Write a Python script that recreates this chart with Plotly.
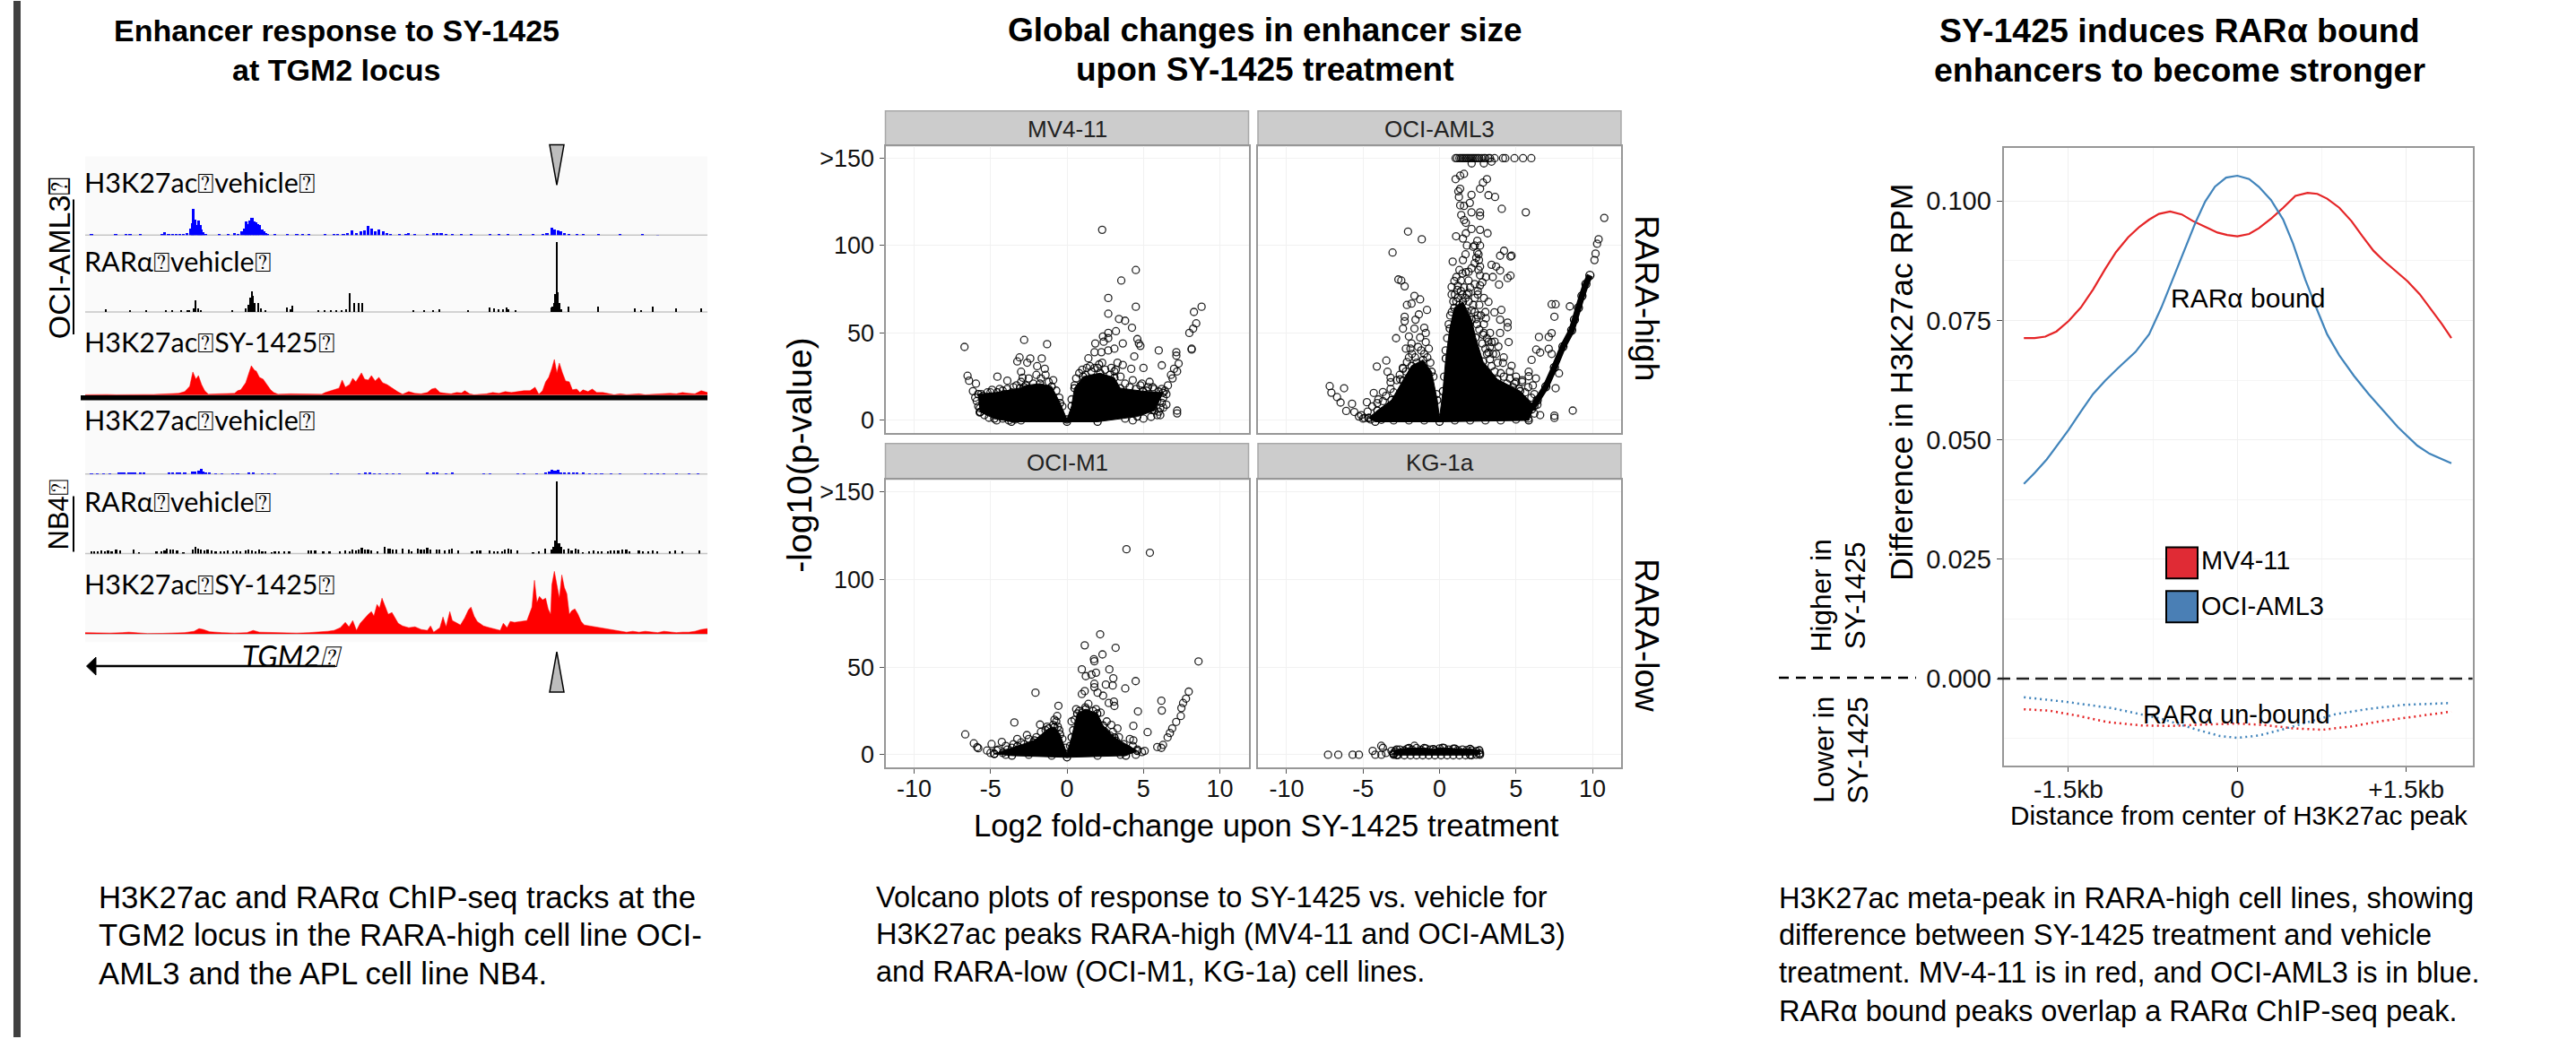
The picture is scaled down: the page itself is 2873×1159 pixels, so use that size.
import plotly.graph_objects as go

W, H = 2873, 1159
SANS = "Liberation Sans"
TRACKF = "Lato"

# ---------- Track data: (locus position 0-100, signal height) ----------
OCI_H3_VEH = [(1.0,.8),(4.9,1),(6.5,.8),(7.2,1),(8.8,.8),(12.3,2),(12.8,4),(13.4,2),(14,1.5),(14.6,1.5),(15.2,1.5),(15.8,2),(16.4,2.5),(16.95,8),(17.2,14),(17.4,30),(17.65,18),(17.9,12),(18.2,17),(18.45,12),(18.7,7),(19,4),(19.3,2),(21.5,1),(23,1),(24,3),(24.6,2),(25.2,5),(25.6,8),(25.9,16),(26.2,13),(26.5,17),(26.8,20),(27.1,16),(27.4,15),(27.7,13),(28,12),(28.4,7),(28.7,5),(29,3),(29.3,1.5),(30.5,.8),(32.5,1),(34,.8),(35,1),(35.9,1),(38.5,1),(40,.8),(40.6,1.5),(41.5,2),(42.2,3),(42.9,6),(43.6,3),(44.3,5),(44.9,6),(45.4,11),(46,8),(46.6,5),(47.2,7),(47.9,5),(48.5,2.5),(49,2),(50.5,1),(51.5,2),(52,3),(53,1),(55,2),(56,3),(56.5,2.5),(57.2,3),(58,1.5),(59,1),(60.5,1),(62,1),(65,1),(66.5,1),(68,1),(70,1.5),(72,1),(73.5,2),(74.2,3),(75,9),(75.4,7),(76,6),(76.5,5),(77,3),(77.8,2),(79,2),(80,2),(82.5,1.5),(86,1),(89.5,1.5),(92,.7)]
OCI_RARA_VEH = [(3.4,2.5),(7.2,1),(9.8,1),(13,1),(14,1.5),(15.5,1),(16.5,1),(16.8,2),(17.5,4),(17.8,13),(18.2,4),(18.6,2),(23.6,1),(25.8,4),(26.3,8),(26.6,16),(26.8,23),(27,18),(27.2,10),(27.8,10),(28.2,4),(29,2),(32.5,5),(33,3),(33.3,7),(37.5,1),(38.5,1.5),(39.5,2),(40.4,2),(41.2,2),(41.9,3),(42.5,21),(43.2,10),(44,10),(44.5,10),(52.8,2),(54.5,1),(56,2),(57,3),(61.5,1),(65,5),(65.8,4),(66.4,3),(67.2,3),(67.7,5),(68,3),(69.2,2),(74.9,5),(75.1,6),(75.4,10),(75.6,20),(75.8,78),(76,22),(76.2,10),(76.5,3),(77.7,6),(82.5,6),(88.3,3.5),(89.3,2),(91.2,6),(95,4),(99,4)]
OCI_H3_SY = [(0,.5),(1,.8),(2,.5),(3.5,.8),(5,.5),(6.5,.8),(8,.5),(9.5,.8),(11,.8),(12.5,1.5),(13.5,1.5),(15,2),(16,4),(16.8,10),(17.3,26),(17.8,18),(18.2,22),(18.7,12),(19.2,5),(19.8,1),(21.5,1.5),(23,1.5),(24,2),(24.5,5),(25,6),(25.8,14),(26.2,22),(26.7,33),(27.2,28),(27.5,27),(28,20),(28.6,18),(29.2,12),(29.8,6),(30.3,3),(31,1),(33,1.5),(35,1.5),(37,1.5),(38,1),(38.6,3),(39.5,5),(40.3,7),(40.8,8),(41.3,17),(41.8,9),(42.5,12),(43,19),(43.5,15),(44.4,25),(44.9,18),(45.5,17),(46,22),(46.6,16),(47.2,20),(47.8,14),(48.5,12),(49.3,8),(50.2,4),(51,1),(52,4),(53,2),(54,1.5),(55,3),(55.7,7),(56.3,8),(57,3),(58,2),(58.8,1.5),(59.7,3),(60.5,2.5),(61,5),(61.8,1.5),(62.5,.5),(63.5,1),(64.5,1.5),(65.5,3),(66.5,2),(67.5,4),(68.5,3),(69.5,4),(70.5,5),(71.5,5),(72.3,9),(72.9,1),(73.5,5),(74,15),(74.5,20),(75,30),(75.4,40),(75.8,25),(76.2,36),(76.7,25),(77.2,16),(77.8,15),(78.3,6),(79,7),(79.5,3),(80,6),(80.8,4),(81.5,7),(82.2,3),(83.2,3),(84.5,1.5),(85,.5),(86,1.5),(87,.7),(88,1),(89,1.5),(90,.5),(91,1),(92,1.5),(93,2),(94,2),(95,1.5),(96,3),(97,2),(98,1.5),(99,5),(100,3)]
NB4_H3_VEH = [(1,.7),(2,.7),(3,.7),(4,.7),(5.4,1),(5.8,1.5),(6.3,1.5),(7,1),(7.5,1),(8,.8),(8.8,.8),(9.5,.8),(13.5,1),(14,1.5),(14.8,1),(15.2,1.5),(16,1),(17.2,3),(17.7,3),(18.2,4),(18.6,6),(19,3),(19.4,1.5),(20,1),(21,.7),(22,.7),(23.7,.7),(24.5,.7),(26.3,1),(27,.8),(28.5,.7),(29.5,.7),(30.5,.7),(39.6,.7),(40.5,.7),(44,.7),(45,1),(45.7,1),(46.5,.7),(47.3,.7),(48.5,.7),(49.5,.7),(50.5,.7),(55,1.5),(56,2),(56.5,1),(58,.7),(59,1),(64,.7),(65,.7),(69.5,.7),(70.5,.7),(72.5,.7),(74,1.5),(74.6,3),(75,5),(75.5,4),(76,4.5),(76.5,2),(77,1.5),(77.8,1),(78.5,1),(79,1),(80,.8),(81,.7),(82,.7),(83,.7),(84.5,.7),(86,.7),(90,.7),(91,.7),(92,.7),(93,.7),(95,.7),(97,.7),(98.5,.7)]
NB4_RARA_VEH = [(1,3),(1.5,3),(2,3),(2.6,3.5),(3.2,3),(3.7,4),(4.3,3),(5,5),(5.7,4),(7.8,5),(8.7,2),(11.5,3),(12.3,3),(12.8,4),(13.2,6),(13.7,5),(14.2,5),(14.8,4),(15.8,2),(17.3,5),(17.8,8),(18.2,6),(18.6,5),(19.2,4),(19.7,5),(20.3,4),(21,3),(21.8,3),(22.4,3),(23,4),(23.8,3),(24.4,4),(25,3),(25.8,4),(26.3,5),(26.8,4),(27.4,3),(28,5),(28.5,3),(29,3),(30,2),(30.5,3),(31.2,3),(32,3),(32.8,3),(35.9,4),(36.3,4),(37,4),(38.3,3),(39.3,3),(41,3),(41.8,4),(42.5,3),(43,5),(43.6,4),(44,5),(44.5,7),(45,5),(45.5,5),(46,4),(47,3),(48.2,8),(48.7,6),(49,6),(49.5,5),(50,5),(51,6),(52,5),(52.5,3),(53.5,6),(54,5),(54.5,5),(55,7),(55.5,5),(56.5,5),(57,5),(57.8,4),(58.5,5),(59,6),(60,4),(62.2,3),(63,4),(63.5,4),(65,4),(65.7,3),(66.3,3),(67,3),(67.5,5),(68,6),(68.5,5),(69.5,4),(72,2),(73,3),(74,6),(75,5),(75.3,8),(75.5,15),(75.85,81),(76.2,12),(76.5,8),(77,5),(77.7,6),(78.2,4),(78.8,6),(79.3,5),(80,2),(81,3),(81.7,4),(82.5,3),(83,3),(84,3),(84.5,4),(85,4),(85.7,4),(86.4,5),(87,5),(87.5,3),(89,4),(89.7,3),(90.5,3),(91.3,4),(92,3),(94,3),(94.8,4),(96,3),(98.7,4)]
NB4_H3_SY = [(0,1.5),(2,1),(4,1),(6,1.5),(7,2),(9,1),(10,.5),(12.5,.7),(14,1),(16,1.5),(17.5,3),(18.3,6),(19,5),(20,2.5),(22,1.5),(24,1),(26,1.5),(27,4),(28,2),(30,1.5),(32,1),(34,1),(36,1.5),(38,2),(39,3),(40,4),(41,7),(41.8,13),(42.4,8),(43,15),(43.6,4),(44.2,12),(44.8,17),(45.5,22),(46,25),(46.4,20),(46.9,33),(47.3,29),(47.7,40),(48.2,30),(48.7,22),(49.3,24),(49.8,18),(50.3,12),(51,9),(52,7),(53,8),(54,5),(55,4),(55.5,9),(56,2),(57,7),(57.5,19),(58,8),(58.6,25),(59,15),(59.8,12),(60.3,10),(61,18),(61.6,27),(62,30),(62.5,20),(63,14),(64,9),(65,7),(66,5),(66.7,4),(67.2,12),(67.8,7),(68.3,14),(69,13),(70,14),(71,15),(71.8,30),(72.2,60),(72.6,35),(73,42),(73.5,38),(74,40),(74.4,28),(74.8,22),(75,55),(75.4,70),(75.8,55),(76.2,40),(76.6,66),(77,52),(77.4,45),(77.8,22),(78.2,26),(78.7,28),(79.2,22),(79.7,14),(80.2,10),(81,9),(82,8),(83,7),(84,5),(85,4),(86,3),(87,2),(88,3),(89,2),(90,3),(91,2),(92,1.5),(93,3),(94,2),(95,1.5),(96,2),(97,2),(98,3),(99,5),(100,6)]

# ---------- Volcano data: (log2 fold change, -log10 p) ----------
MV411_POINTS = [(-6.7,42),(2.3,109),(4.5,86),(3.55,80),(2.7,70),(4.5,65),(8.8,65),(8.3,62),(2.7,61),(3.4,58),(3.8,57),(4.25,53),(8.45,55.5),(8.25,52.5),(8,50),(-2.8,46),(-1.3,43.6),(1.85,44),(6,40),(8.15,41),(8.15,40.5),(7.15,39),(7.15,37),(4.7,44),(4.8,42.6),(4.6,46.5),(3.65,44),(3.1,41),(2.7,50),(3.2,51),(2.35,48),(2.7,47),(2.4,45),(2.7,40),(2.25,39),(1.8,39),(1.4,35.5),(4.4,36.6),(7.3,32.5),(6.2,31.5),(7,29.5),(3.65,31.7),(5,30),(4.2,29.5),(-6.5,25.5),(-6.4,22.7),(-4.55,25),(-5.95,21),(-6.15,16.7),(-3.1,36),(-3.25,33.7),(-2.4,35.4),(-1.65,35.4),(-2.6,33),(-1.95,31),(-1.45,29.5),(-3,27.8),(-3.9,22.7),(-2.9,24.4),(7.2,5.6),(7.2,4),(6.3,7.3),(6.1,3),(-5.5,14),(-5.2,16),(-4.9,17.5),(-4.5,14),(-4.2,17),(-3.8,15),(-3.5,19),(-5.8,8),(-5.5,10),(-5.2,6),(-5.7,4.5),(-5,11),(-4.6,9),(2.9,30),(2.3,33),(2,30),(3.3,33),(3.1,28),(1.3,30),(1.6,28),(4.3,23),(4.8,20),(5.3,19),(5.7,18),(6.2,18),(6.6,20),(6.9,24),(7.2,28),(6.8,26),(5.4,22),(6.5,9),(5.9,11),(5.6,6),(6.0,5),
 (-5.6,15),(-5.3,13),(-5,16),(-4.7,13),(-4.4,18),(-4.1,15),(-3.9,18),(-3.6,16),(-3.3,20),(-3,22),(-2.8,19),(-2.5,24),(-2.2,21),(-2,26),(-1.7,24),(-1.4,26),(-1.2,22),(-.9,23),(-.7,17),(-.5,13),(-.3,8),(-5.9,11),(-6,13),(-5.7,7),(-5.4,3),(-5.1,1.5),(-4.6,0),(-4.2,1),(-3.8,0),(-3.4,.5),(-3,0),(.3,12),(.5,20),(.6,24),(.8,27),(1,29),(1.2,26),(1.5,31),(1.8,30),(2.1,32),(2.5,29),(2.8,26),(3.2,29),(3.5,25),(3.8,21),(4.1,19),(4.5,18),(4.9,21),(5.2,17),(5.6,19),(6,16.5),(6.3,13),(6.5,15),(6.4,17),(6.2,10),(6.1,7),(5.9,3),(5.5,2),(5,1),(4.3,0),(3.8,1)]
MV411_MASS = [(-5.68,4.8),(-5.8,15),(-4.56,16),(-3.07,18.4),(-2.7,20),(-1.76,21),(-1,19.3),(-.45,9.9),(0,.5),(.3,8.2),(.49,18.4),(1.05,25),(2.17,27),(3.1,24.4),(3.48,18.4),(4.97,16.7),(6.28,15.8),(5.72,5.6),(4.6,2.2),(2,-.8),(0,-.8),(-3.63,-.8),(-4.75,1)]
AML3_TOP_ROW = [1.05,1.15,1.3,1.4,1.5,1.6,1.7,1.8,1.9,2.0,2.1,2.2,2.3,2.4,2.5,2.6,2.75,2.9,3.0,3.2,3.3,3.6,4.15,4.3,4.9,5.46,6.0]
AML3_TOP_VALUE = [150]*27
AML3_POINTS = [(2.1,147),(2.9,147),(3.4,148),(-3.07,96),(-2.06,108),(-1.16,103.6),(-2.69,80.6),(-2.5,80),(-2.28,76.7),(-1.64,71.2),(-1.27,69.2),(-2.13,66),(-1.83,66.8),(-.82,63.2),(-1.35,60.6),(-1.57,57.6),(-2.28,59.3),(-2.28,56.7),(-2.39,52.5),(-1.64,52.5),(-2.84,47),(-1,53),(-.9,50),(-2,48),(-1.27,47.4),(-1.83,44),(-2.2,41),(-.9,44.8),(-3.48,34.2),(-4.1,30.8),(-3.4,27.8),(-2.39,29.5),(-2.13,33.4),(-3.2,24.4),(-2.58,23.5),(-4.3,15.7),(-3.7,16.2),(-3.2,21.8),(-7.18,19.6),(-7.07,15.8),(-6.24,18.4),(-6.7,13.3),(-6.47,10.2),(-5.72,9.5),(-6.1,5.4),(-5.57,4.8),(-5.12,3),(-4.75,10.4),(-4.07,9.9),(-4.9,1.4),(-5.27,2.2),(1.6,141),(1.35,140),(1.05,138),(3.1,138),(2.84,136),(2.65,132.5),(1.35,132.5),(1.23,131),(2.09,129),(3.2,128.8),(3.63,127.8),(1.27,127.8),(1.98,124.4),(1.35,123),(1.6,122.7),(4.07,121),(5.64,119),(2.65,119),(2.09,119),(1.42,117.5),(2.65,117),(1.6,114.6),(1.72,113),(2.09,109.5),(2.65,109),(1.72,107),(3.14,107),(1.08,105.3),(1.53,104),(2.47,102.7),(2.65,100),(1.79,100),(2.2,99.3),(2.47,96),(4.22,97),(3.96,94.2),(4.71,94.2),(4.64,93.7),(.86,90.8),(1.53,91.7),(2.58,91.7),(3.4,89),(3.7,88),(3.96,85.7),(2.09,87),(1.72,84.8),(2.65,83),(3.48,82),(3.03,82),(4.64,82.8),(4.45,81.4),(3.89,77.7),(2.65,77.2),(.97,79.7),(.79,76.3),(.79,72),(1.16,74.6),(3.2,67.8),(4.04,63.2),(3.59,61.8),(3.03,58.4),(3.96,57.6),(4.45,55.9),(4.45,53.3),(3.96,50),(2.84,49),(3.4,44.8),(4.52,44.8),(3.85,42.2),(3.2,38.8),(4.71,31.2),(4.15,32.9),(7.33,66.4),(7.59,66.4),(8.52,65.2),(7.51,59.3),(6.5,47.7),(7.14,47.7),(7.33,49.9),(7.14,40.9),(7.33,38),(6.32,40.5),(6.58,38.8),(6.02,34.6),(7.81,26.9),(7.59,18.4),(8.71,5.6),(7.51,2.7),(7.51,1.4),(6.58,3),(6.2,3.9),(5.83,27.8),(5.83,25.2),(4.9,21),(1.2,70),(1.5,72),(1.9,73),(2.3,70),(2.6,66),(1.1,82),(1.4,80),(1.9,80),(2.3,78),(2.5,74),(2.9,70),(3.0,62),(2.5,60),(2.9,55),(3.3,50),(3.1,47),(3.6,45),(3.3,42),(3.7,38),(4.2,36),(4.6,28),(5.0,25),(5.4,22),
 (-4.7,5),(-4.4,8),(-4,12),(-3.7,11),(-3.5,14),(-3.2,18),(-3,16),(-2.8,23),(-2.6,26),(-2.4,30),(-2.2,28),(-2,36),(-1.8,38),(-1.6,36),(-1.4,42),(-1.2,40),(-1,38),(-.8,36),(-.6,33),(-.4,25),(-.2,15),(-1.5,33),(-.7,41),(-1.9,41),(.3,25),(.4,40),(.5,47),(.6,55),(.7,60),(.8,62),(.9,68),(1,72),(1.1,68),(1.2,77),(1.3,66),(1.4,74),(1.5,84),(1.6,76),(1.7,70),(1.8,72),(1.9,68),(2,76),(2.1,63),(2.2,66),(2.3,62),(2.4,58),(2.5,72),(2.6,52),(2.7,60),(2.8,44),(2.9,50),(3,41),(3.1,38),(3.2,45),(3.3,35),(3.4,31),(3.5,38),(3.6,28),(3.8,33),(4,27),(4.2,25),(4.4,21),(4.6,24),(4.8,19),(5,22),(5.2,18),(5.4,23),(5.6,16),(5.8,19),(6,13),(6.2,15),(6.4,9),(6.1,20),(6.3,24),(1.3,86),(1.9,85),(2.3,90),(2.55,86),(2.8,79),(1.7,95),(2.4,93),(1.8,62),(1.25,61),(2.45,55),(1.1,58),(2.55,95),(2.3,100),(2.65,88),(-5,1),(-4.5,.5),(-3.8,.3),(-3,0),(-2,0),(-1,0),(1,0),(2,0),(3,0),(4,0),(5,.5),(5.8,1)]
AML3_RIDGE = [(6.02,6.5),(6.39,11.6),(6.95,19.3),(7.51,30.3),(8.07,42.2),(8.64,51.6),(8.82,57.6),(9.08,64.4),(9.31,71.2),(9.57,78),(9.83,83)]
AML3_RIDGE_TOP = [(10.13,91.7),(10.2,95.4),(10.3,101),(10.4,103.6),(10.77,115.8)]
AML3_MASS = [(-4.64,1.4),(-4.07,5.6),(-3.14,11.6),(-2.39,22.7),(-1.83,31.2),(-1.08,34.6),(-.52,27.8),(-.15,11.6),(0,1.4),(.22,16.7),(.41,35.4),(.67,52.5),(.97,64.4),(1.53,67.8),(2.09,57.6),(2.36,47.4),(2.84,33.7),(3.78,23.5),(5.27,16.7),(6.2,8.2),(5.83,0),(0,-.8),(-4.2,-.8)]
OCIM1_POINTS = [(3.89,117.2),(5.42,115.2),(2.17,68.7),(1.16,62.4),(3.18,61),(2.32,57.2),(1.76,54.5),(1.79,53.3),(8.6,53.2),(.97,48.7),(2.77,48.7),(1.9,46.8),(1.6,45.7),(1.23,44.8),(3.03,43.6),(4.49,42),(1.79,40.5),(2.54,40),(2.99,39.5),(1.79,38.5),(3.81,37.8),(1.16,36.3),(-2.06,35.4),(2,35.4),(7.96,36),(.97,34.6),(2.36,33.7),(7.78,32),(7.59,29.5),(6.17,30.8),(6.2,25.2),(7.48,26.6),(7.44,22.1),(7.14,18.7),(6.88,15),(6.73,12.4),(6.58,9.9),(5.27,12.9),(4.64,24.7),(4.34,16.5),(-.56,27.9),(3.07,30.3),(3.1,27.8),(2.73,29.5),(-.82,20),(-1.76,17.2),(-.64,22.1),(-3.44,18.4),(-2.62,11.2),(-6.65,11.6),(-6.09,6.5),(-5.87,4.3),(-5.8,3.7),(-5.23,2.4),(-4.93,6.1),(-4.26,7.3),(-3.25,9),(5.08,2.2),(5.9,4.4),(6.17,3.9),(6.28,5.6),(4.11,9),(4.34,8.2),(-4.5,3),(-4,5),(-3.6,4),(-3,7),(-2.5,9),(-1.7,13),(-1.3,16),(-.6,16),(2.6,19),(2.9,17),(3,13),(3.4,10),(3.7,6),(3.3,15),(.3,19),(.6,26),(1.2,27),(1.9,26),
 (-5,1),(-4.6,2.5),(-4.2,1),(-3.9,3),(-3.5,6),(-3.1,3),(-2.8,6),(-2.5,5),(-2.2,7),(-2,10),(-1.6,9),(-1.4,14),(-1.1,12),(-.9,17),(-.7,19),(-.5,14),(-.3,9),(-.1,4),(.2,5),(.4,14),(.5,20),(.8,25),(1,24),(1.4,29),(1.7,25),(2.2,24),(2.5,13),(2.8,11),(3.2,8),(3.6,4),(4,3),(4.3,5),(4.6,3),(4.9,1.5),(4.5,0),(3.5,0),(2,-.5),(-1,-.5),(-2.5,0),(-4,0)]
OCIM1_MASS = [(-4.75,.5),(-3.25,4.8),(-2.13,8.2),(-1.2,15),(-.82,15.8),(-.45,11.6),(0,.5),(.3,9.9),(.67,23.5),(1.23,26),(1.98,23.5),(2.36,16.7),(3.1,9.9),(4.6,2.2),(3.85,-.5),(0,-1.5),(-3.6,-.5)]
KG1A_POINTS = [(-7.29,0),(-6.62,0),(-5.68,0),(-5.27,0),(-4.37,2.2),(-4.2,0),(-3.81,5.1),(-3.7,3.9),(-3.8,0),(-3.14,2.2),(-3.5,1),(-1.64,5.1),
 (-3,1),(-2.9,2),(-2.6,3),(-2.3,2.5),(-2.1,3.5),(-1.8,3),(-1.5,3.8),(-1.2,2.8),(-.9,3.6),(-.6,3),(-.3,2.5),(0,3.6),(.3,3.8),(.6,3),(.9,3.4),(1.2,2.6),(1.5,3),(1.8,2.7),(2.1,2.5),(2.4,2),(2.65,1),(2.65,0),(2.4,0),(2.1,-.3),(1.7,-.3),(1.3,-.3),(.9,-.3),(.5,-.3),(.1,-.3),(-.3,-.3),(-.7,-.3),(-1.1,-.3),(-1.5,-.3),(-1.9,-.3),(-2.3,-.3),(-2.7,-.2),(-3,0)]
KG1A_MASS = [(-3,.3),(-2.8,3),(-2,3.8),(-1,3.8),(-.4,3.2),(.2,4),(1,3.5),(2,3.3),(2.6,2.5),(2.6,.3),(2,-.2),(-2.8,-.2)]

# ---------- Meta-peak data: (distance kb, RPM difference) ----------
RED_BOUND_X = [-1.896,-1.8,-1.706,-1.606,-1.498,-1.39,-1.281,-1.173,-1.078,-.97,-.87,-.784,-.697,-.597,-.494,-.394,-.286,-.177,-.091,0,.104,.19,.299,.407,.515,.623,.71,.797,.905,1.013,1.108,1.208,1.294,1.403,1.511,1.619,1.727,1.814,1.9]
RED_BOUND_Y = [.0713,.0713,.0716,.0727,.0749,.0777,.0815,.0858,.0893,.0924,.0946,.0961,.0973,.0978,.0972,.0958,.0946,.0934,.0929,.0926,.0931,.0943,.0963,.0986,.1011,.1017,.1015,.1005,.0986,.0958,.0927,.0896,.0876,.0853,.0832,.0805,.0771,.0743,.0713]
BLUE_BOUND_X = [-1.896,-1.8,-1.693,-1.584,-1.498,-1.39,-1.281,-1.173,-1.065,-.905,-.784,-.675,-.567,-.459,-.372,-.286,-.199,-.1,0,.104,.19,.299,.407,.494,.602,.71,.797,.905,1.035,1.165,1.294,1.424,1.597,1.706,1.9]
BLUE_BOUND_Y = [.0408,.0431,.0459,.0493,.0521,.0559,.0596,.0624,.0649,.0684,.0721,.0777,.084,.0902,.0955,.0999,.103,.1049,.1053,.1046,.103,.1002,.0961,.0911,.0836,.0771,.0721,.0677,.0634,.0596,.0562,.0527,.0488,.0471,.0451]
RED_UNBOUND_X = [-1.896,-1.671,-1.411,-1.152,-.848,-.589,-.286,0,.234,.494,.753,1.013,1.273,1.576,1.9]
RED_UNBOUND_Y = [-.0064,-.0067,-.0078,-.0091,-.0098,-.0099,-.0096,-.0094,-.0097,-.0104,-.0107,-.01,-.0089,-.0079,-.0069]
BLUE_UNBOUND_X = [-1.896,-1.541,-1.108,-.675,-.372,-.156,0,.19,.407,.623,.861,1.143,1.468,1.9]
BLUE_UNBOUND_Y = [-.0039,-.0048,-.0062,-.0084,-.0106,-.012,-.0124,-.0119,-.0106,-.0091,-.0075,-.0064,-.0055,-.0051]

# ---------- Labels ----------
TRACK_LABELS = ["H3K27ac\u2370vehicle\u2370", "RAR\u03b1\u2370vehicle\u2370", "H3K27ac\u2370SY-1425\u2370"]
FACETS = ["MV4-11", "OCI-AML3", "OCI-M1", "KG-1a"]
VOL_Y_TICKS = [0, 50, 100, 150]
VOL_Y_TEXT = ["0", "50", "100", ">150"]
VOL_X_TICKS = [-10, -5, 0, 5, 10]
VOL_X_TEXT = ["-10", "-5", "0", "5", "10"]
META_X_TICKS = [-1.5, 0, 1.5]
META_X_TEXT = ["-1.5kb", "0", "+1.5kb"]
META_Y_TICKS = [0, .025, .05, .075, .1]
META_Y_TEXT = ["0.000", "0.025", "0.050", "0.075", "0.100"]
CAPTION_A = ["H3K27ac and RAR\u03b1 ChIP-seq tracks at the", "TGM2 locus in the RARA-high cell line OCI-", "AML3 and the APL cell line NB4."]
CAPTION_B = ["Volcano plots of response to SY-1425 vs. vehicle for", "H3K27ac peaks RARA-high (MV4-11 and OCI-AML3)", "and RARA-low (OCI-M1, KG-1a) cell lines."]
CAPTION_C = ["H3K27ac meta-peak in RARA-high cell lines, showing", "difference between SY-1425 treatment and vehicle", "treatment. MV-4-11 is in red, and OCI-AML3 is in blue.", "RAR\u03b1 bound peaks overlap a RAR\u03b1 ChIP-seq peak."]

def px(x): return x / W
def py(y): return 1 - y / H
def xs(pairs): return [p[0] for p in pairs]
def ys(pairs): return [p[1] for p in pairs]

fig = go.Figure()
layout = {}
shapes = []
annots = []
def text(t, x, y, size, font=SANS, color="black", bold=False, italic=False, angle=0, anchor="center"):
    if bold: t = "<b>%s</b>" % t
    if italic: t = "<i>%s</i>" % t
    annots.append(dict(text=t, x=px(x), y=py(y), xref="paper", yref="paper", showarrow=False,
                       xanchor=anchor, yanchor="middle", textangle=angle,
                       font=dict(family=font, size=size, color=color)))
def rect(x0, y0, x1, y1, fill, line=None, lw=0, layer="below"):
    shapes.append(dict(type="rect", xref="paper", yref="paper", x0=px(x0), x1=px(x1), y0=py(y0), y1=py(y1),
                       fillcolor=fill, line=dict(color=line or fill, width=lw), layer=layer))
def hline(x0, y0, x1, y1, color="black", w=2, dash="solid", layer="above"):
    shapes.append(dict(type="line", xref="paper", yref="paper", x0=px(x0), x1=px(x1), y0=py(y0), y1=py(y1),
                       line=dict(color=color, width=w, dash=dash), layer=layer))
def path(pts, fill, line="black", w=1.5):
    d = "M" + " L".join("%.5f,%.5f" % (px(a), py(b)) for a, b in pts) + " Z"
    shapes.append(dict(type="path", xref="paper", yref="paper", path=d, fillcolor=fill, line=dict(color=line, width=w), layer="above"))

# ---------- Panel A: genome tracks ----------
TX0, TX1 = 95, 789
rect(15, 0, 23, H, "#404040")
rect(TX0, 174, TX1, 717, "#fafafa", layer="below")
TRACKS = [(OCI_H3_VEH, "#0000ff", 174, 262, "bar", .45), (OCI_RARA_VEH, "black", 262, 348, "bar", .2), (OCI_H3_SY, "#ff0000", 348, 441, "area", 0),
          (NB4_H3_VEH, "#0000ff", 447, 529, "bar", .45), (NB4_RARA_VEH, "black", 529, 618, "bar", .25), (NB4_H3_SY, "#ff0000", 618, 708, "area", 0)]
n = 0
for data, col, top, base, kind, bw in TRACKS:
    n += 1
    sfx = "" if n == 1 else str(n)
    xa, ya = "x" + sfx, "y" + sfx
    if kind == "bar":
        fig.add_trace(go.Bar(x=xs(data), y=ys(data), width=bw, marker=dict(color=col, line=dict(width=0)), xaxis=xa, yaxis=ya, showlegend=False))
    else:
        fig.add_trace(go.Scatter(x=xs(data), y=ys(data), mode="lines", fill="tozeroy", fillcolor=col, line=dict(color=col, width=.5), xaxis=xa, yaxis=ya, showlegend=False))
    layout["xaxis" + sfx] = dict(domain=[px(TX0), px(TX1)], range=[0, 100], visible=False, anchor=ya)
    layout["yaxis" + sfx] = dict(domain=[py(base), py(top)], range=[0, base - top], visible=False, anchor=xa)
    hline(TX0, base, TX1, base, "#c6c6c6", 1.5, layer="below")

hline(90, 444, TX1, 444, "black", 5.5)
for lab, y in zip(TRACK_LABELS + TRACK_LABELS, [203, 291, 381, 468, 559, 652]):
    text(lab, 92, y, 30.5, TRACKF, anchor="left")
text("OCI-AML3\u2370", 66, 288, 34, angle=-90)
hline(82, 222, 82, 373, "black", 2)
text("NB4\u2370", 66, 575, 31, angle=-90)
hline(82, 554, 82, 616, "black", 2)
path([(613, 161), (629, 161), (621, 206)], "#bdbdbd")
path([(621, 728), (629, 773), (613, 773)], "#bdbdbd")
hline(105, 744, 374, 744, "black", 2.5)
path([(96.5, 744), (107, 734), (107, 754)], "black", "black", 1)
text("TGM2\u2370", 326, 732, 33, TRACKF, italic=True)

# ---------- Panel B: volcano facets ----------
GRID = "#f1f1f1"
BORDER = "#979797"
PANELS = [
    (987.5, 1392.5, 162, 483, 123, MV411_MASS, [MV411_POINTS], None),
    (1403, 1808, 162, 483, 123, AML3_MASS, [AML3_POINTS, AML3_RIDGE_TOP, list(zip(AML3_TOP_ROW, AML3_TOP_VALUE))], AML3_RIDGE),
    (987.5, 1392.5, 535, 857, 495, OCIM1_MASS, [OCIM1_POINTS], None),
    (1403, 1808, 535, 857, 495, KG1A_MASS, [KG1A_POINTS], None),
]
for i, (x0, x1, t, b, st, mass, pts, ridge) in enumerate(PANELS):
    n += 1
    sfx = str(n)
    xa, ya = "x" + sfx, "y" + sfx
    fig.add_trace(go.Scatter(x=xs(mass) + xs(mass)[:1], y=ys(mass) + ys(mass)[:1], mode="lines+markers", fill="toself", fillcolor="black",
                             line=dict(color="black", width=1), marker=dict(symbol="circle-open", size=8, color="black", line=dict(width=1.3)),
                             xaxis=xa, yaxis=ya, showlegend=False))
    if ridge:
        fig.add_trace(go.Scatter(x=xs(ridge), y=ys(ridge), mode="lines+markers", line=dict(color="black", width=7),
                                 marker=dict(symbol="circle-open", size=9, color="black", line=dict(width=1.3)), xaxis=xa, yaxis=ya, showlegend=False))
    for group in pts:
        fig.add_trace(go.Scatter(x=xs(group), y=ys(group), mode="markers", marker=dict(symbol="circle-open", size=8, color="rgba(0,0,0,.85)", line=dict(width=1.3)),
                                 xaxis=xa, yaxis=ya, showlegend=False))
    left = i in (0, 2); bottom = i >= 2
    layout["xaxis" + sfx] = dict(domain=[px(x0), px(x1)], range=[-11.87, 11.87], anchor=ya, tickvals=VOL_X_TICKS, ticktext=VOL_X_TEXT, showticklabels=bottom,
                                 ticks="outside" if bottom else "", ticklen=5, tickcolor="#555", tickfont=dict(family=SANS, size=27, color="#111"),
                                 ticklabelstandoff=-6,
                                 showgrid=True, gridcolor=GRID, zeroline=False, showline=True, mirror=True, linecolor=BORDER, linewidth=2)
    layout["yaxis" + sfx] = dict(domain=[py(b), py(t)], range=[-7.1, 157.1], anchor=xa, tickvals=VOL_Y_TICKS, ticktext=VOL_Y_TEXT, showticklabels=left,
                                 ticks="outside" if left else "", ticklen=5, tickcolor="#555", tickfont=dict(family=SANS, size=27, color="#111"),
                                 showgrid=True, gridcolor=GRID, zeroline=False, showline=True, mirror=True, linecolor=BORDER, linewidth=2)
    rect(x0, st, x1, t, "#cccccc", "#a8a8a8", 1.5)
    text(FACETS[i], (x0 + x1) / 2, (st + t) / 2 + 1, 26, color="#222")
text("-log10(p-value)", 892, 508, 39, angle=-90)
text("RARA-high", 1837, 332, 37, angle=90)
text("RARA-low", 1837, 709, 37, angle=90)
text("Log2 fold-change upon SY-1425 treatment", 1412, 922, 34.7)

# ---------- Panel C: meta-peak ----------
n += 1
sfx = str(n)
xa, ya = "x" + sfx, "y" + sfx
C_RED, C_BLUE = "#e41a1c", "#377eb8"
for xv, yv, c, dash, w in [(RED_BOUND_X, RED_BOUND_Y, C_RED, "solid", 2.2), (BLUE_BOUND_X, BLUE_BOUND_Y, C_BLUE, "solid", 2.2),
                           (RED_UNBOUND_X, RED_UNBOUND_Y, C_RED, "2px,4px", 2.5), (BLUE_UNBOUND_X, BLUE_UNBOUND_Y, C_BLUE, "2px,4px", 2.5)]:
    fig.add_trace(go.Scatter(x=xv, y=yv, mode="lines", line=dict(color=c, width=w, dash=dash), opacity=.95, xaxis=xa, yaxis=ya, showlegend=False))
layout["xaxis" + sfx] = dict(domain=[px(2234.6), px(2757.6)], range=[-2.076, 2.088], anchor=ya, tickvals=META_X_TICKS, ticktext=META_X_TEXT,
                             ticks="outside", ticklen=5, tickcolor="#444", tickfont=dict(family=SANS, size=28, color="#111"), ticklabelstandoff=-4,
                             showgrid=True, gridcolor="#efefef", zeroline=False, showline=True, mirror=True, linecolor=BORDER, linewidth=2,
                             minor=dict(tickvals=[-.75, .75], showgrid=True, gridcolor="#f5f5f5", ticks=""))
layout["yaxis" + sfx] = dict(domain=[py(855), py(164)], range=[-.01816, .1112], anchor=xa, tickvals=META_Y_TICKS, ticktext=META_Y_TEXT,
                             ticks="outside", ticklen=6, tickcolor="#444", tickfont=dict(family=SANS, size=29, color="#111"),
                             showgrid=True, gridcolor="#efefef", zeroline=False, showline=True, mirror=True, linecolor=BORDER, linewidth=2,
                             minor=dict(tickvals=[-.0125, .0125, .0375, .0625, .0875], showgrid=True, gridcolor="#f5f5f5", ticks=""))
hline(2228, 758, 2757.6, 758, "#222", 2.5, "14px,7px")
hline(1984, 757, 2137, 757, "black", 2.5, "11px,8px")
rect(2416, 611, 2451, 646, "#e02b35", "black", 2, layer="above")
rect(2416, 660, 2451, 695, "#4a7fb5", "black", 2, layer="above")
text("MV4-11", 2453, 626, 29, anchor="left")
text("OCI-AML3", 2453, 677, 29, anchor="left")
text("RAR\u03b1 bound", 2507, 332, 30)
text("RAR\u03b1 un-bound", 2494, 798, 29)
text("Difference in H3K27ac RPM", 2121, 427, 35.5, angle=-90)
text("Higher in", 2031, 665, 31.5, angle=-90)
text("SY-1425", 2069, 665, 31.5, angle=-90)
text("Lower in", 2034, 838, 31.5, angle=-90)
text("SY-1425", 2072, 838, 31.5, angle=-90)
text("Distance from center of H3K27ac peak", 2497, 911, 29.7)

# ---------- Titles and captions ----------
for cx, size, lines in [(375, 34, ["Enhancer response to SY-1425", "at TGM2 locus"]),
                  (1411, 37, ["Global changes in enhancer size", "upon SY-1425 treatment"]),
                  (2431, 37.5, ["SY-1425 induces RAR\u03b1 bound", "enhancers to become stronger"])]:
    for ln, y in zip(lines, [33, 77]):
        text(ln, cx, y, size, bold=True)
for x0, size, lines, ypos in [(108, 34.7, CAPTION_A, [1003, 1045, 1088]), (975, 32.5, CAPTION_B, [1003, 1044, 1086]), (1982, 32.6, CAPTION_C, [1003, 1044, 1086, 1129])]:
    for ln, y in zip(lines, ypos):
        text(ln, x0, y, size, anchor="left")

fig.update_layout(width=W, height=H, margin=dict(l=0, r=0, t=0, b=0), paper_bgcolor="white", plot_bgcolor="rgba(0,0,0,0)",
                  bargap=0, showlegend=False, shapes=shapes, annotations=annots, **layout)
fig.write_html("out.html", config={"displayModeBar": False}, post_script="document.body.style.margin='0';")
